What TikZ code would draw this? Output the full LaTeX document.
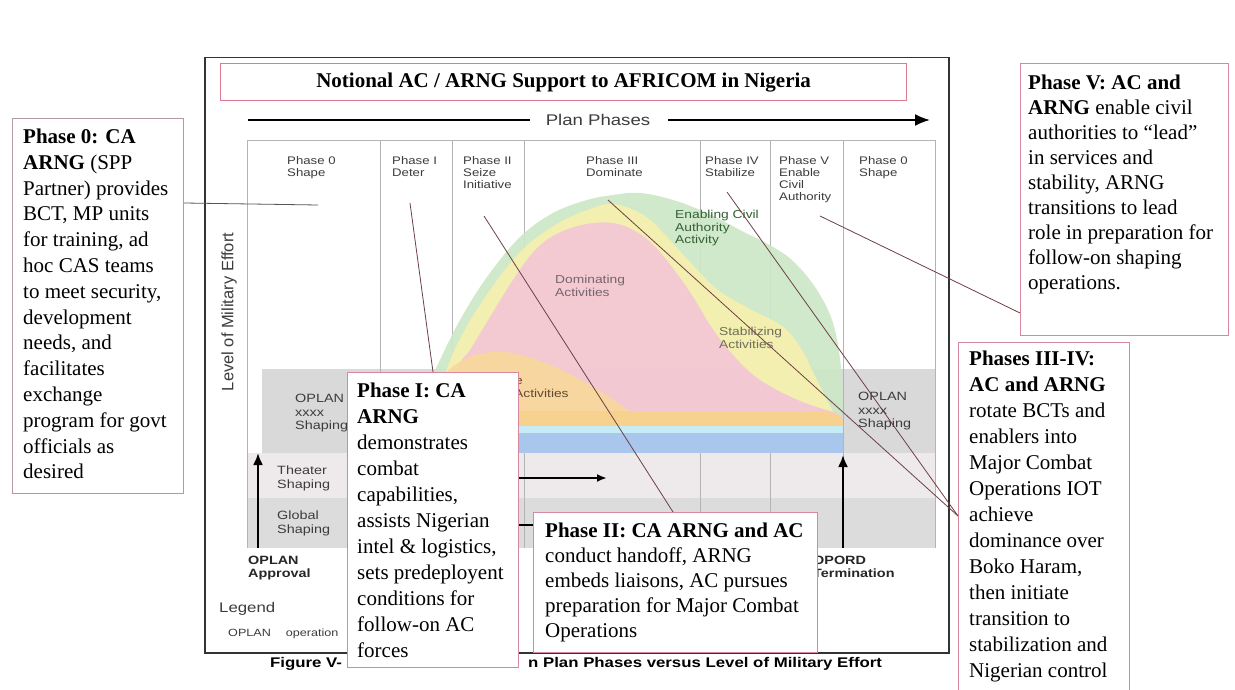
\documentclass[tikz,border=0pt]{standalone}
\usepackage{fontspec}
\setmainfont{Liberation Serif}
\newfontfamily\chartfont[FakeStretch=1.2]{Liberation Sans}
\newfontfamily\plainsans{Liberation Sans}
\usetikzlibrary{arrows.meta}
\definecolor{boxpink}{HTML}{D8889C}
\definecolor{titlepink}{HTML}{DD7B93}
\definecolor{boxzero}{HTML}{B39AA2}
\definecolor{leadcol}{HTML}{6E3F46}
\definecolor{leadzero}{HTML}{555555}
\definecolor{labgray}{HTML}{3C3C3C}
\definecolor{colline}{HTML}{B4B4B4}
\definecolor{bandA}{HTML}{D9D9D9}
\definecolor{bandB}{HTML}{EEEAEB}
\definecolor{bandC}{HTML}{DCDCDC}
\definecolor{humpgreen}{HTML}{CDE8C7}
\definecolor{humpyellow}{HTML}{F6F0AE}
\definecolor{humppink}{HTML}{F3C6D5}
\definecolor{humporange}{HTML}{F8D79E}
\definecolor{stripor}{HTML}{F7D18E}
\definecolor{stripcyan}{HTML}{C6ECF5}
\definecolor{stripblue}{HTML}{A9C6EC}
\definecolor{framecol}{HTML}{333333}
\begin{document}
\begin{tikzpicture}[x=1pt,y=-1pt,
  callbox/.style={draw=boxpink, line width=1pt, fill=white, inner sep=0pt, anchor=north west},
  calltext/.style={anchor=north west, inner sep=0pt, align=left, font=\fontsize{21}{26}\selectfont},
  lead/.style={draw=leadcol, line width=0.8pt},
  lbl/.style={font=\chartfont\fontsize{11}{12}\selectfont, text=labgray, align=left, inner sep=0pt, anchor=north west},
  actlbl/.style={font=\chartfont\fontsize{11.5}{12.5}\selectfont, align=left, inner sep=0pt, anchor=north west},
  bandlbl/.style={font=\chartfont\fontsize{12}{13.5}\selectfont, text=labgray, align=left, inner sep=0pt, anchor=north west},
  boldlbl/.style={font=\chartfont\bfseries\fontsize{12}{13}\selectfont, text=black!85, align=left, inner sep=0pt, anchor=north west},
  thickarrow/.style={line width=2.2pt, -{Latex[length=12pt,width=10pt]}}
]
\useasboundingbox (0,0) rectangle (1235,690);
\fill[white] (0,0) rectangle (1235,690);

% ---------- chart background ----------
\fill[bandA] (262,369) rectangle (935,453);
\fill[bandB] (247,453) rectangle (935,498);
\fill[bandC] (247,498) rectangle (935,548);
\draw[colline, line width=0.7pt] (247,140) -- (935,140);
\foreach \cx in {247,380,452,524,700,770,843,935}
  \draw[colline, line width=0.7pt] (\cx,140) -- (\cx,548);

% ---------- hump ----------
\fill[humpgreen, fill opacity=0.92] plot[smooth, tension=0.6] coordinates {(428,413) (432,380) (440,360) (460,320) (487,277) (520,237) (553,213) (587,200) (613,195) (640,193) (673,200) (707,213) (740,230) (773,247) (795,263) (817,290) (833,323) (841,367) (843,413)} -- cycle;
\fill[humpyellow, fill opacity=0.92] plot[smooth, tension=0.6] coordinates {(440,413) (445,375) (462,335) (490,290) (522,250) (557,224) (590,209) (615,204) (645,216) (668,238) (690,262) (718,290) (752,310) (782,326) (800,347) (815,376) (827,400) (834,413)} -- cycle;
\fill[humppink, fill opacity=0.92] plot[smooth, tension=0.6] coordinates {(452,413) (458,368) (470,350) (487,322) (513,280) (537,248) (563,231) (593,223) (618,224) (640,234) (658,250) (678,275) (695,300) (712,328) (733,355) (760,380) (800,401) (837,413)} -- cycle;
\fill[humporange, fill opacity=0.95] plot[smooth, tension=0.6] coordinates {(438,413) (442,378) (470,357) (503,352) (537,360) (570,374) (603,393) (632,413)} -- cycle;
\fill[stripor] (440,411) -- (815,411) .. controls (835,412) and (843,416) .. (843,420) -- (843,427) -- (440,427) -- cycle;
\fill[stripcyan] (440,426) rectangle (843,433);
\fill[stripblue] (440,433) rectangle (843,453);

% ---------- frame and title ----------
\node[draw=framecol, line width=1.5pt, minimum width=744pt, minimum height=595pt, anchor=north west, inner sep=0pt] (frame) at (204,57) {};
\node[draw=titlepink, line width=1.2pt, fill=white, minimum width=686pt, minimum height=37pt, anchor=north west, inner sep=0pt] (titlebox) at (220,63) {};
\node[font=\bfseries\fontsize{21}{24}\selectfont, inner sep=0pt] (title) at (titlebox.center) {Notional AC / ARNG Support to AFRICOM in Nigeria};

% ---------- plan phases arrow ----------
\node[font=\chartfont\fontsize{15.5}{17}\selectfont, text=labgray, inner sep=0pt] (planph) at (598,120) {Plan Phases};
\coordinate (ppstart) at (248,120);
\coordinate (ppend) at (930,120);
\draw[line width=2pt] (ppstart) -- ([xshift=-16pt]planph.west);
\draw[line width=2pt, -{Latex[length=15pt,width=12pt]}] ([xshift=18pt]planph.east) -- (ppend);

% ---------- column labels ----------
\node[lbl] (ph0a) at (287,156) {Phase 0\\Shape};
\node[lbl] (ph1) at (392,156) {Phase I\\Deter};
\node[lbl] (ph2) at (463,156) {Phase II\\Seize\\Initiative};
\node[lbl] (ph3) at (586,156) {Phase III\\Dominate};
\node[lbl] (ph4) at (705,156) {Phase IV\\Stabilize};
\node[lbl] (ph5) at (779,156) {Phase V\\Enable\\Civil\\Authority};
\node[lbl] (ph0b) at (859,156) {Phase 0\\Shape};

% ---------- axis label ----------
\node[font=\plainsans\fontsize{16.5}{18}\selectfont, text=labgray, rotate=90, inner sep=0pt] (effort) at (229,312) {Level of Military Effort};

% ---------- activity labels ----------
\node[actlbl, text=black!70!green!60!gray] (enab) at (675,210) {Enabling Civil\\Authority\\Activity};
\node[actlbl, text=black!75!magenta!50!gray] (domin) at (555,275) {Dominating\\Activities};
\node[actlbl, text=black!70!yellow!70!gray] (stabi) at (719,327) {Stabilizing\\Activities};
\node[font=\chartfont\fontsize{11.5}{12.5}\selectfont, text=black!70!orange!60!gray, inner sep=0pt, anchor=base east] (seizeA) at (523,384) {Seize};
\node[font=\chartfont\fontsize{11.5}{12.5}\selectfont, text=black!70!orange!60!gray, inner sep=0pt, anchor=base west] (seizeB) at (514,397) {Activities};

% ---------- band labels ----------
\node[bandlbl] (oplanL) at (295,394) {OPLAN\\xxxx\\Shaping};
\node[bandlbl] (oplanR) at (858,392) {OPLAN\\xxxx\\Shaping};
\node[bandlbl] (theater) at (277,466) {Theater\\Shaping};
\node[bandlbl] (global) at (277,511) {Global\\Shaping};

% ---------- vertical arrows ----------
\coordinate (va1s) at (258,548);
\coordinate (va1e) at (258,453);
\draw[thickarrow] (va1s) -- (va1e);
\coordinate (va2s) at (843,548);
\coordinate (va2e) at (843,455);
\draw[thickarrow] (va2s) -- (va2e);

\node[boldlbl] (oplanapp) at (248,556) {OPLAN\\Approval};
\node[boldlbl] (opordterm) at (813,556) {OPORD\\Termination};
\node[font=\chartfont\fontsize{14}{15}\selectfont, text=labgray, inner sep=0pt, anchor=base west] (legend) at (219,612) {Legend};
\node[font=\chartfont\fontsize{10.5}{12}\selectfont, text=labgray, inner sep=0pt, anchor=base west] (legoplan) at (228,636) {OPLAN\hspace{15pt}operation};

% ---------- caption ----------
\node[font=\chartfont\bfseries\fontsize{14}{15}\selectfont, inner sep=0pt, anchor=base west] (capA) at (270,667) {Figure V-};
\node[font=\chartfont\bfseries\fontsize{14}{15}\selectfont, inner sep=0pt, anchor=base west] (capB) at (528,667) {n Plan Phases versus Level of Military Effort};

% ---------- callout boxes ----------
\node[callbox, draw=boxzero, minimum width=171pt, minimum height=375pt] (p0box) at (12,118) {};
\node[calltext, font=\fontsize{21}{25.8}\selectfont] (p0text) at ([xshift=11pt,yshift=-10.7pt]p0box.north west)
 {\textbf{Phase 0: CA}\\\textbf{ARNG} (SPP\\Partner) provides\\BCT, MP units\\for training, ad\\hoc CAS teams\\to meet security,\\development\\needs, and\\facilitates\\exchange\\program for govt\\officials as\\desired};

\node[callbox, minimum width=171pt, minimum height=295pt] (p1box) at (347,372) {};
\node[calltext] (p1text) at ([xshift=10pt,yshift=-11pt]p1box.north west)
 {\textbf{Phase I: CA}\\\textbf{ARNG}\\demonstrates\\combat\\capabilities,\\assists Nigerian\\intel \& logistics,\\sets predeployent\\conditions for\\follow-on AC\\forces};

\node[callbox, minimum width=284pt, minimum height=140pt] (p2box) at (533,512) {};
\node[calltext, font=\fontsize{21}{25}\selectfont] (p2text) at ([xshift=12pt,yshift=-11pt]p2box.north west)
 {\textbf{Phase II: CA ARNG and AC}\\conduct handoff, ARNG\\embeds liaisons, AC pursues\\preparation for Major Combat\\Operations};

\node[callbox, minimum width=208pt, minimum height=272pt] (p5box) at (1020,63) {};
\node[calltext, font=\fontsize{21}{25}\selectfont] (p5text) at ([xshift=8pt,yshift=-11.7pt]p5box.north west)
 {\textbf{Phase V: AC and}\\\textbf{ARNG} enable civil\\authorities to “lead”\\in services and\\stability, ARNG\\transitions to lead\\role in preparation for\\follow-on shaping\\operations.};

\node[callbox, minimum width=171pt, minimum height=360pt] (p34box) at (958,342) {};
\node[calltext] (p34text) at ([xshift=11pt,yshift=-8.7pt]p34box.north west)
 {\textbf{Phases III-IV:}\\\textbf{AC and ARNG}\\rotate BCTs and\\enablers into\\Major Combat\\Operations IOT\\achieve\\dominance over\\Boko Haram,\\then initiate\\transition to\\stabilization and\\Nigerian control};

% ---------- arrows partly hidden by boxes ----------
\coordinate (midarrow) at (607,478);
\draw[line width=2pt, -{Latex[length=10pt,width=8pt]}] ([yshift=-106pt]p1box.north east) -- (midarrow);
\draw[line width=2pt] ([yshift=-153pt]p1box.north east) -- ([yshift=-13pt]p2box.north west);

% ---------- leader lines ----------
\coordinate (c0) at (318,205);
\coordinate (c1) at (410,203);
\coordinate (c2) at (484,216);
\coordinate (c5) at (820,216);
\coordinate (c3a) at (608,200);
\coordinate (c3b) at (727,192);
\draw[lead, draw=leadzero] ([yshift=-85pt]p0box.north east) -- (c0);
\draw[lead] ([xshift=86pt]p1box.north west) -- (c1);
\draw[lead] ([xshift=140pt]p2box.north west) -- (c2);
\draw[lead] ([yshift=-250pt]p5box.north west) -- (c5);
\draw[lead] ([yshift=-174pt]p34box.north west) -- (c3a);
\draw[lead] ([yshift=-174pt]p34box.north west) -- (c3b);
\end{tikzpicture}
\end{document}
